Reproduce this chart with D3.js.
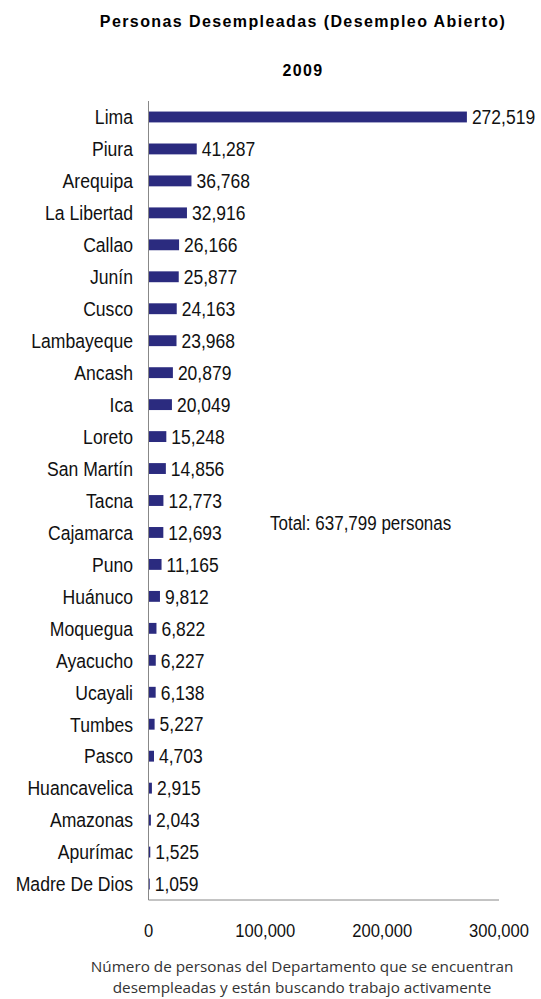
<!DOCTYPE html>
<html>
<head>
<meta charset="utf-8">
<script src="https://cdn.jsdelivr.net/npm/d3@7"></script>
<style>
  body { margin: 0; background: #fff; }
  svg text { font-family: "Liberation Sans", Arial, sans-serif; }
</style>
</head>
<body>
<svg width="541" height="999"></svg>
<script>
var svg = d3.select('svg');

// data
var departamentos = ['Lima', 'Piura', 'Arequipa', 'La Libertad', 'Callao', 'Junín', 'Cusco',
  'Lambayeque', 'Ancash', 'Ica', 'Loreto', 'San Martín', 'Tacna', 'Cajamarca', 'Puno',
  'Huánuco', 'Moquegua', 'Ayacucho', 'Ucayali', 'Tumbes', 'Pasco', 'Huancavelica',
  'Amazonas', 'Apurímac', 'Madre De Dios'];
var desempleados = [272519, 41287, 36768, 32916, 26166, 25877, 24163, 23968, 20879, 20049,
  15248, 14856, 12773, 12693, 11165, 9812, 6822, 6227, 6138, 5227, 4703, 2915, 2043, 1525, 1059];
var xTicks = [0, 100000, 200000, 300000];
var total = 637799;

var plotLeft = 148.5, plotTop = 101, plotBottom = 900;
var stretch = 1.15; // text in the original is a bit taller than wide
var fmt = d3.format(',');

var x = d3.scaleLinear().domain([0, 300000]).range([plotLeft, 499]);
var y = d3.scaleBand().domain(departamentos).range([plotTop, plotBottom]).paddingInner(0.66).paddingOuter(0.33);

function place(px, py){
  return 'translate(' + px + ',' + py + ') scale(1,' + stretch + ')';
}

// titles
svg.append('text')
  .attr('x', 303).attr('y', 27)
  .attr('text-anchor', 'middle')
  .style('font-weight', 'bold').style('font-size', '16px')
  .style('letter-spacing', '1.4px')
  .text('Personas Desempleadas (Desempleo Abierto)');

svg.append('text')
  .attr('x', 303).attr('y', 76)
  .attr('text-anchor', 'middle')
  .style('font-weight', 'bold').style('font-size', '16px')
  .style('letter-spacing', '1.4px')
  .text('2009');

// bars
svg.selectAll('rect.bar')
  .data(desempleados)
  .enter()
  .append('rect')
  .attr('class', 'bar')
  .attr('x', x(0))
  .attr('y', function(d, i){ return y(departamentos[i]); })
  .attr('width', function(d){ return x(d) - x(0); })
  .attr('height', y.bandwidth())
  .attr('fill', '#2b2b7f');

// value labels
svg.selectAll('text.val')
  .data(desempleados)
  .enter()
  .append('text')
  .attr('class', 'val')
  .attr('transform', function(d, i){
    return place(x(d) + 5, y(departamentos[i]) + y.bandwidth() / 2);
  })
  .attr('dy', '0.36em')
  .style('font-size', '17.5px')
  .attr('fill', '#111')
  .text(function(d){ return fmt(d); });

// category labels
svg.selectAll('text.cat')
  .data(departamentos)
  .enter()
  .append('text')
  .attr('class', 'cat')
  .attr('transform', function(d){ return place(133, y(d) + y.bandwidth() / 2); })
  .attr('dy', '0.36em')
  .attr('text-anchor', 'end')
  .style('font-size', '17.6px')
  .attr('fill', '#111')
  .text(function(d){ return d; });

// axes lines
svg.append('line')
  .attr('x1', plotLeft).attr('x2', plotLeft).attr('y1', plotTop).attr('y2', plotBottom)
  .attr('stroke', '#888').attr('stroke-width', 1);
svg.append('line')
  .attr('x1', plotLeft).attr('x2', x(300000)).attr('y1', plotBottom).attr('y2', plotBottom)
  .attr('stroke', '#888').attr('stroke-width', 1);

// x tick labels
svg.selectAll('text.tick')
  .data(xTicks)
  .enter()
  .append('text')
  .attr('class', 'tick')
  .attr('transform', function(d){ return place(x(d), 930); })
  .attr('dy', '0.36em')
  .attr('text-anchor', 'middle')
  .style('font-size', '16.6px')
  .attr('fill', '#111')
  .text(function(d){ return fmt(d); });

// total
svg.append('text')
  .attr('transform', place(270, 523))
  .attr('dy', '0.36em')
  .style('font-size', '17px')
  .attr('fill', '#111')
  .text('Total: ' + fmt(total) + ' personas');

// caption
var cap = svg.append('text')
  .attr('text-anchor', 'middle')
  .style('font-family', '"Open Sans", sans-serif')
  .style('font-size', '15.3px')
  .attr('fill', '#333');
cap.append('tspan').attr('x', 302).attr('y', 972)
  .text('Número de personas del Departamento que se encuentran');
cap.append('tspan').attr('x', 302).attr('y', 993)
  .text('desempleadas y están buscando trabajo activamente');
</script>
</body>
</html>
